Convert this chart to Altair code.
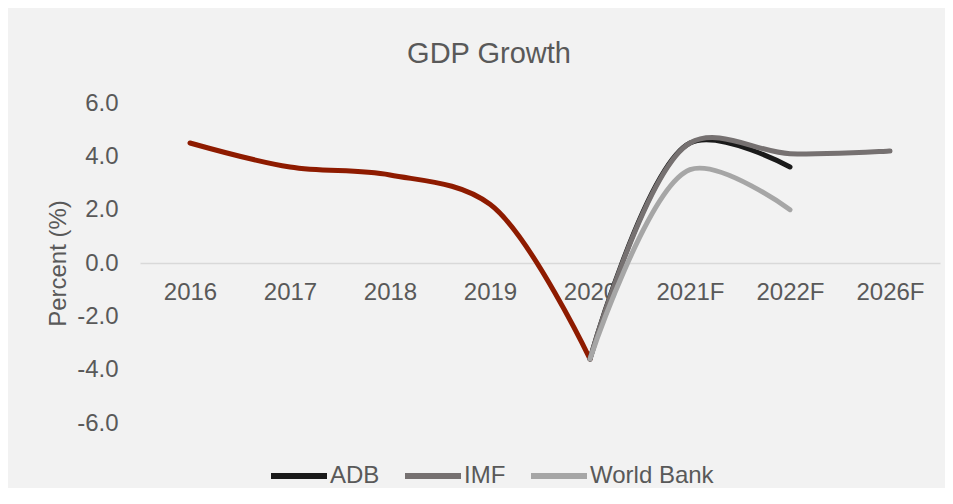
import altair as alt
import pandas as pd

categories = ["2016", "2017", "2018", "2019", "2020", "2021F", "2022F", "2026F"]

hist_years = ["2016", "2017", "2018", "2019", "2020"]
hist_values = [4.5, 3.6, 3.3, 2.2, -3.6]

adb_years = ["2020", "2021F", "2022F"]
adb_values = [-3.6, 4.5, 3.6]

imf_years = ["2020", "2021F", "2022F", "2026F"]
imf_values = [-3.6, 4.5, 4.1, 4.2]

wb_years = ["2020", "2021F", "2022F"]
wb_values = [-3.6, 3.5, 2.0]

series_names = ["ADB", "IMF", "World Bank"]
series_colors = ["#1a1a1a", "#767171", "#a6a6a6"]
hist_color = "#8e1b00"

FONT = "Liberation Sans"
TXT = "#595959"

hist_df = pd.DataFrame({"year": hist_years, "value": hist_values})
fc_rows = []
for name, yrs, vals in [("ADB", adb_years, adb_values),
                        ("IMF", imf_years, imf_values),
                        ("World Bank", wb_years, wb_values)]:
    for i, (y, v) in enumerate(zip(yrs, vals)):
        fc_rows.append({"series": name, "year": y, "value": v, "order": i})
fc_df = pd.DataFrame(fc_rows)

x_enc = alt.X(
    "year:N",
    sort=categories,
    scale=alt.Scale(type="point", domain=categories, padding=0.5),
    axis=alt.Axis(
        title=None, orient="bottom", offset=-160, labelAngle=0, ticks=False,
        domainColor="#d9d9d9", domainWidth=1.5, labelPadding=17,
        labelFontSize=24, labelColor=TXT, labelFont=FONT,
    ),
)
y_enc = alt.Y(
    "value:Q",
    scale=alt.Scale(domain=[-6, 6], nice=False, zero=False),
    axis=alt.Axis(
        title="Percent (%)", values=[-6, -4, -2, 0, 2, 4, 6],
        labelExpr="replace(format(datum.value, '.1f'), '\u2212', '-')",
        domain=False, ticks=False, grid=False, labelPadding=22,
        labelFontSize=24, labelColor=TXT, labelFont=FONT,
        titleFontSize=24, titleColor=TXT, titleFont=FONT,
        titleFontWeight="normal", titlePadding=6,
    ),
)

hist = alt.Chart(hist_df).mark_line(
    interpolate="catmull-rom", strokeWidth=5, strokeCap="round", color=hist_color
).encode(x=x_enc, y=y_enc)

fc = alt.Chart(fc_df).mark_line(
    interpolate="catmull-rom", strokeWidth=5, strokeCap="round"
).encode(
    x=x_enc,
    y=y_enc,
    order="order:Q",
    color=alt.Color(
        "series:N",
        scale=alt.Scale(domain=series_names, range=series_colors),
        legend=alt.Legend(
            title=None, orient="none", direction="horizontal",
            legendX=128, legendY=342, padding=0,
            symbolType="stroke", symbolSize=3136, symbolStrokeWidth=6,
            labelFontSize=24, labelColor=TXT, labelFont=FONT,
            labelOffset=0, columnPadding=13,
        ),
    ),
)

chart = alt.layer(hist, fc).properties(
    width=800,
    height=320,
    background="#f2f2f2",
    autosize=alt.AutoSizeParams(type="none"),
    padding={"left": 132, "top": 95, "right": 5, "bottom": 65},
    title=alt.TitleParams(
        "GDP Growth", fontSize=29, color=TXT, font=FONT,
        fontWeight="normal", anchor="middle", dx=-51, offset=22,
    ),
).configure_view(stroke=None)

chart.save("out.html", embed_options={"renderer": "svg", "actions": False})
